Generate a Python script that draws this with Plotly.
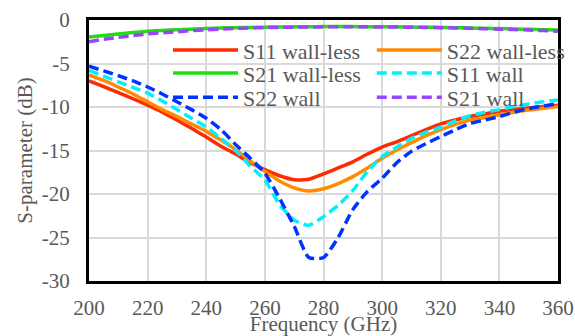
import plotly.graph_objects as go

freq = [200, 205, 210, 215, 220, 225, 230, 235, 240, 245, 250, 255, 260, 265, 270, 275, 280,
        285, 290, 295, 300, 305, 310, 315, 320, 325, 330, 335, 340, 345, 350, 355, 360]

s11_wallless = [-7.0, -7.65, -8.35, -9.05, -9.8, -10.6, -11.5, -12.45, -13.45, -14.5, -15.4, -16.4, -17.2,
                -17.9, -18.35, -18.3, -17.7, -17.0, -16.3, -15.4, -14.6, -14.0, -13.3, -12.6, -11.95,
                -11.5, -11.1, -10.8, -10.5, -10.3, -10.1, -9.95, -9.8]
s22_wallless = [-6.3, -6.95, -7.7, -8.5, -9.4, -10.3, -11.1, -11.95, -12.8, -13.8, -14.9, -16.2, -17.4,
                -18.5, -19.3, -19.65, -19.4, -18.8, -18.0, -17.0, -15.9, -14.95, -14.1, -13.3, -12.6,
                -12.0, -11.5, -11.2, -10.9, -10.6, -10.35, -10.15, -9.95]
s21_wallless = [-1.95, -1.77, -1.6, -1.45, -1.3, -1.2, -1.12, -1.05, -0.98, -0.93, -0.88, -0.85, -0.82,
                -0.8, -0.78, -0.77, -0.76, -0.76, -0.76, -0.77, -0.78, -0.79, -0.81, -0.83, -0.86,
                -0.89, -0.92, -0.95, -0.99, -1.03, -1.07, -1.11, -1.15]
s11_wall = [-5.8, -6.45, -7.1, -7.75, -8.4, -9.3, -10.3, -11.3, -12.3, -13.6, -15.0, -16.8, -18.4,
            -21.2, -23.0, -23.6, -22.6, -21.3, -19.6, -17.4, -15.7, -14.6, -13.6, -12.9, -12.3,
            -11.6, -11.0, -10.6, -10.3, -9.95, -9.65, -9.4, -9.2]
s22_wall = [-5.3, -5.85, -6.4, -7.0, -7.7, -8.5, -9.4, -10.3, -11.3, -12.6, -14.3, -15.9, -17.6,
            -20.5, -23.7, -27.3, -27.3, -25.0, -21.8, -19.7, -18.2, -16.4, -15.1, -14.2, -13.4,
            -12.6, -11.9, -11.5, -11.1, -10.6, -10.2, -9.9, -9.6]
s21_wall = [-2.5, -2.22, -2.0, -1.78, -1.6, -1.47, -1.35, -1.22, -1.12, -1.04, -0.97, -0.92, -0.88,
            -0.85, -0.82, -0.8, -0.79, -0.78, -0.78, -0.79, -0.8, -0.81, -0.83, -0.85, -0.88,
            -0.92, -0.96, -1.0, -1.05, -1.1, -1.15, -1.22, -1.3]

y_tick_vals = [0, -5, -10, -15, -20, -25, -30]
y_tick_labels = ["0", "-5", "-10", "-15", "-20", "-25", "-30"]

series_names = ["S11 wall-less", "S22 wall-less", "S21 wall-less", "S11 wall", "S22 wall", "S21 wall"]
series_values = [s11_wallless, s22_wallless, s21_wallless, s11_wall, s22_wall, s21_wall]
series_colors = ["#FF2A00", "#FF8C00", "#22DD11", "#00F0FF", "#0033FF", "#9944FF"]
series_dashes = ["solid", "solid", "solid", "10px,5px", "10px,5px", "10px,5px"]

FONT = "Times New Roman"
GRAY = "#595959"

# legend layout: two columns, three rows (paper fractions of the plot area)
legend_cols = [0.1684, 0.603]
legend_rows = [0.884, 0.796, 0.703]

fig = go.Figure()
layout_legends = {}
for i, (name, y, color, dash) in enumerate(zip(series_names, series_values, series_colors, series_dashes)):
    key = "legend" if i == 0 else f"legend{i + 1}"
    fig.add_trace(go.Scatter(x=freq, y=y, name=name, mode="lines", legend=key,
                             line=dict(color=color, width=3.5, dash=dash, shape="spline", smoothing=0.6)))
    layout_legends[key] = dict(x=legend_cols[i % 2], y=legend_rows[i // 2], xanchor="left", yanchor="middle",
                               itemwidth=65, bgcolor="rgba(0,0,0,0)", borderwidth=0,
                               font=dict(family=FONT, size=22, color=GRAY))

fig.update_layout(
    width=575, height=336,
    margin=dict(l=89, r=17, t=20, b=55, autoexpand=False),
    paper_bgcolor="white", plot_bgcolor="white",
    font=dict(family=FONT, size=21, color=GRAY),
    showlegend=True,
    **layout_legends,
    xaxis=dict(range=[200, 360], dtick=20, tick0=200, showgrid=True, gridcolor="#D9D9D9", gridwidth=1.5,
               showline=True, linecolor="black", linewidth=3, mirror=True, zeroline=False,
               ticks="", ticklabelstandoff=6, automargin=False,
               tickfont=dict(family=FONT, size=21, color=GRAY),
               title=dict(text="Frequency (GHz)", standoff=9, font=dict(family=FONT, size=21, color=GRAY))),
    yaxis=dict(range=[-30, 0], tickmode="array", tickvals=y_tick_vals, ticktext=y_tick_labels,
               showgrid=True, gridcolor="#D9D9D9", gridwidth=1.5,
               showline=True, linecolor="black", linewidth=3, mirror=True, zeroline=False,
               ticks="", ticklabelstandoff=12, automargin=False,
               tickfont=dict(family=FONT, size=21, color=GRAY),
               title=dict(text="S-parameter (dB)", standoff=4, font=dict(family=FONT, size=21, color=GRAY))),
)

fig.write_html("out.html")
